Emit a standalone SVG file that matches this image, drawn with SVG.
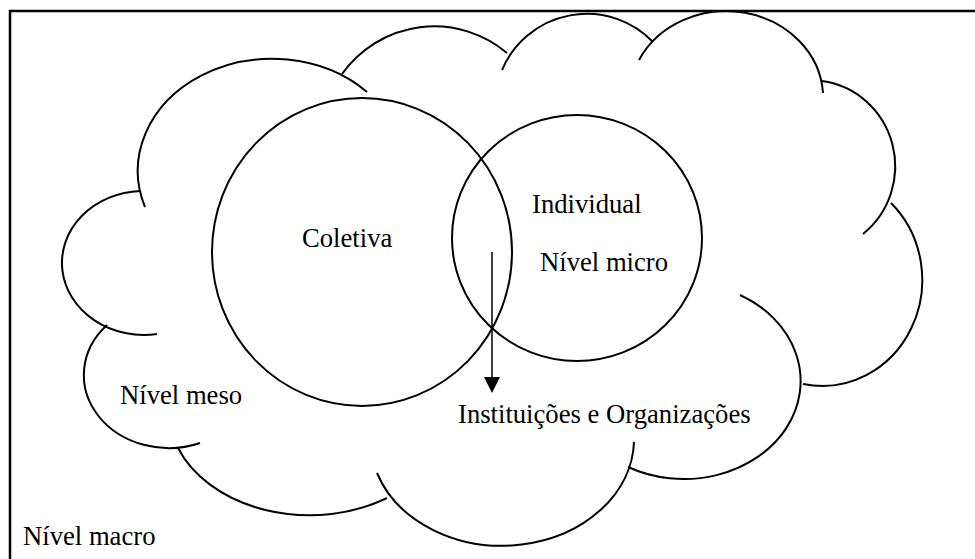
<svg xmlns="http://www.w3.org/2000/svg" width="975" height="559" viewBox="0 0 975 559">
<style>
.frame{fill:none;stroke:#000;stroke-width:2.5}
.cl{fill:none;stroke:#000;stroke-width:2}
.circ{fill:none;stroke:#000;stroke-width:2}
.t{font-family:"Liberation Serif","Times New Roman",serif;font-size:26.67px;fill:#000}
.conn{stroke:#000;stroke-width:1.5;fill:none}
</style>
<defs>
<marker id="ah" markerUnits="userSpaceOnUse" markerWidth="16" markerHeight="16" refX="0" refY="8" orient="auto" viewBox="0 0 16 16">
<path d="M0,0 L16,8 L0,16 Z" fill="#000"/>
</marker>
</defs>
<rect x="0" y="0" width="975" height="559" fill="#fff"/>
<rect class="frame" x="10" y="11" width="1000" height="600"/>
<g id="macro">
<path class="cl" d="M145,207 A134,112 0 0,1 367,92"/>
<path class="cl" d="M342,74 A113,113 0 0,1 507,53"/>
<path class="cl" d="M502,70 A92,92 0 0,1 653,42"/>
<path class="cl" d="M639,60 A97,87 0 0,1 823,93"/>
<path class="cl" d="M822,81 A84,86 0 0,1 863,234"/>
<path class="cl" d="M891,203 A100,106 0 0,1 803,384"/>
<path class="cl" d="M740,295 A113,95 0 1,1 628,467"/>
<path class="cl" d="M634,442 A132,107 0 0,1 377,473"/>
<path class="cl" d="M387,498 A141,105 0 0,1 178,448"/>
<path class="cl" d="M200,443 A85,73 0 0,1 107,325"/>
<path class="cl" d="M157,334 A82,72 0 1,1 140,191"/>
<text class="t" x="23" y="545">Nível macro</text>
</g>
<g id="meso">
<text class="t" x="120" y="404">Nível meso</text>
</g>
<g id="coletiva">
<ellipse class="circ" cx="362" cy="252" rx="150" ry="154"/>
<text class="t" x="302" y="247">Coletiva</text>
</g>
<g id="individual">
<ellipse class="circ" cx="577" cy="238" rx="125" ry="123"/>
<text class="t" x="532" y="213">Individual</text>
<text class="t" x="540" y="271">Nível micro</text>
</g>
<g id="instituicoes">
<text class="t" x="458" y="423">Instituições e Organizações</text>
</g>
<g id="connectors">
<line class="conn" x1="492" y1="252" x2="492" y2="377" marker-end="url(#ah)"/>
</g>
</svg>
